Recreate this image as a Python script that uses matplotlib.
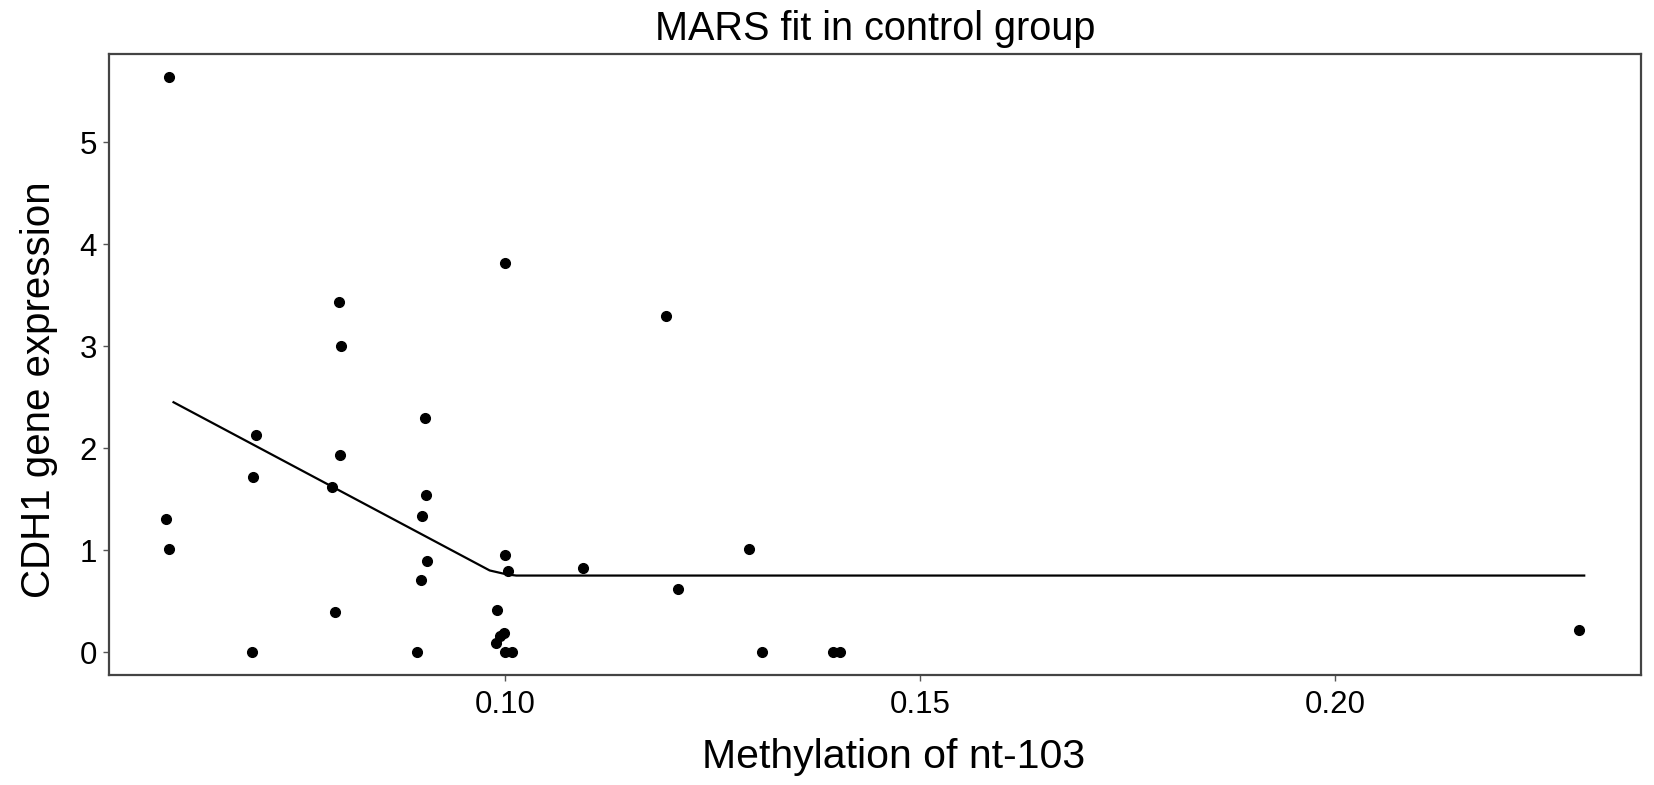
import numpy as np
import matplotlib.pyplot as plt

plt.rcParams['font.family'] = ['Liberation Sans', 'DejaVu Sans']

# observed data (methylation, expression)
meth = [0.0595, 0.0799, 0.0999, 0.0802, 0.0903, 0.0699, 0.0801, 0.0696,
        0.0791, 0.0904, 0.0900, 0.0591, 0.0594, 0.1000, 0.0905, 0.1003,
        0.0898, 0.0794, 0.0990, 0.0998, 0.0993, 0.0989, 0.0695, 0.0894,
        0.0999, 0.1008, 0.1093, 0.1208, 0.1294, 0.1309, 0.2294, 0.1194,
        0.1395, 0.1403]
expr = [5.64, 3.43, 3.82, 3.00, 2.30, 2.13, 1.93, 1.72,
        1.62, 1.54, 1.33, 1.30, 1.01, 0.95, 0.89, 0.79,
        0.71, 0.39, 0.41, 0.19, 0.16, 0.085, 0.0, 0.0,
        0.0, 0.0, 0.82, 0.62, 1.01, 0.0, 0.215, 3.30,
        0.0, 0.0]

# MARS fitted curve
fit_x = [0.0600, 0.0981, 0.0997, 0.1003, 0.1013, 0.2300]
fit_y = [2.45, 0.80, 0.77, 0.76, 0.75, 0.75]

fig = plt.figure(figsize=(16.54, 7.85), dpi=100)
ax = fig.add_axes([0.0661, 0.1401, 0.926, 0.7911])

ax.plot(meth, expr, 'o', color='black', markersize=7, zorder=3)
ax.plot(fit_x, fit_y, '-', color='black', linewidth=1.6)
ax.margins(x=0.04, y=0.04)

ax.set_xticks([0.10, 0.15, 0.20])
ax.set_xticklabels(['0.10', '0.15', '0.20'])
ax.set_yticks([0, 1, 2, 3, 4, 5])

for s in ax.spines.values():
    s.set_color('#444444')
    s.set_linewidth(1.6)
ax.tick_params(direction='out', length=4, width=1, color='#555555',
               labelsize=22.5, pad=7)
ax.tick_params(axis='y', pad=5)

ax.set_title('MARS fit in control group', fontsize=28.5, pad=10)
ax.set_xlabel('Methylation of nt-103', fontsize=29.5)
ax.set_ylabel('CDH1 gene expression', fontsize=29, labelpad=15)
ax.xaxis.set_label_coords(0.512, -0.102)
ax.yaxis.label.set_y(0.46)

fig.savefig('out.png', dpi=100)
